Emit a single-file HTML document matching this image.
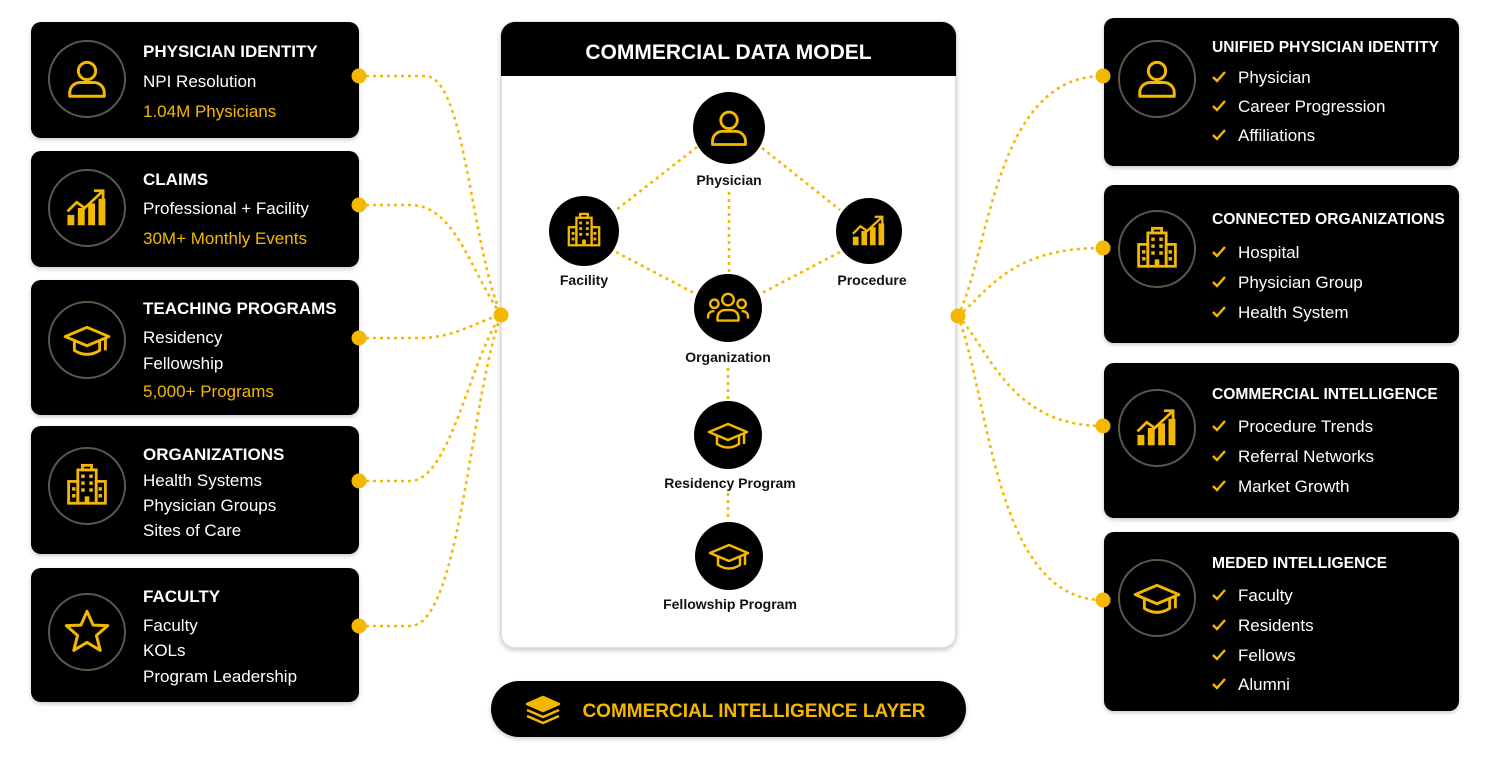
<!DOCTYPE html>
<html><head><meta charset="utf-8"><style>
html,body{margin:0;padding:0;background:#fff;}
svg{display:block;font-family:"Liberation Sans",Arial,sans-serif;}
</style></head><body>
<svg width="1500" height="770" viewBox="0 0 1500 770" xmlns="http://www.w3.org/2000/svg">
<defs>
<filter id="sh" x="-10%" y="-10%" width="120%" height="130%"><feDropShadow dx="0" dy="2" stdDeviation="2" flood-opacity="0.2"/></filter>
<symbol id="person" viewBox="-20 -20 40 40" overflow="visible"><g fill="none" stroke="#F5B800" stroke-width="2.6" stroke-linejoin="round"><circle cx="0" cy="-7" r="7.5"/><path d="M-15 15 v-3 a9 9 0 0 1 9-9 h12 a9 9 0 0 1 9 9 v3 z"/></g></symbol>
<symbol id="bldg" viewBox="-20 -20 40 40" overflow="visible"><g fill="none" stroke="#F5B800" stroke-width="2.4"><rect x="-8" y="-14" width="16" height="29"/><rect x="-4" y="-18" width="8" height="4"/><rect x="-16" y="-4" width="8" height="19"/><rect x="8" y="-4" width="8" height="19"/></g><g fill="#F5B800"><rect x="-5" y="-10" width="3" height="3"/><rect x="2" y="-10" width="3" height="3"/><rect x="-5" y="-4" width="3" height="3"/><rect x="2" y="-4" width="3" height="3"/><rect x="-5" y="2" width="3" height="3"/><rect x="2" y="2" width="3" height="3"/><rect x="-13" y="1" width="3" height="3"/><rect x="10" y="1" width="3" height="3"/><rect x="-13" y="7" width="3" height="3"/><rect x="10" y="7" width="3" height="3"/><rect x="-2" y="9" width="4" height="6"/></g></symbol>
<symbol id="chart" viewBox="-20 -20 40 40" overflow="visible"><g fill="#F5B800"><rect x="-17" y="6" width="6" height="9"/><rect x="-8" y="0" width="6" height="15"/><rect x="1" y="-4" width="6" height="19"/><rect x="10" y="-8" width="6" height="23"/></g><g fill="none" stroke="#F5B800" stroke-width="2.4"><polyline points="-17,3 -9,-5 -2,0 13,-14"/><polyline points="6,-15 14,-15 14,-7"/></g></symbol>
<symbol id="people" viewBox="-20 -20 40 40" overflow="visible"><g fill="none" stroke="#F5B800" stroke-width="2.3" stroke-linejoin="round"><circle cx="0" cy="-8" r="5.5"/><path d="M-10 12 v-3 a7 7 0 0 1 7-7 h6 a7 7 0 0 1 7 7 v3 z"/><circle cx="-13" cy="-4" r="4"/><path d="M-19 10 v-2 a5 5 0 0 1 5-5 h1"/><circle cx="13" cy="-4" r="4"/><path d="M19 10 v-2 a5 5 0 0 0-5-5 h-1"/></g></symbol>
<symbol id="cap" viewBox="-20 -20 40 40" overflow="visible"><g fill="none" stroke="#F5B800" stroke-width="2.5" stroke-linejoin="round"><polygon points="0,-11 19,-3 0,5 -19,-3"/><path d="M-11 1 v8 q11 7 22 0 v-8"/><line x1="16" y1="-2" x2="16" y2="9"/></g></symbol>
<symbol id="star" viewBox="-20 -20 40 40" overflow="visible"><polygon fill="none" stroke="#F5B800" stroke-width="2.6" stroke-linejoin="round" points="0,-18 5.3,-6 18,-5.5 8.2,3 11.5,16 0,9 -11.5,16 -8.2,3 -18,-5.5 -5.3,-6"/></symbol>
<symbol id="chk" viewBox="0 0 14 12" overflow="visible"><polyline points="1,6 5,10 13,1" fill="none" stroke="#F5B800" stroke-width="2.4"/></symbol>
</defs>

<!-- connectors -->
<g fill="none" stroke="#F5B800" stroke-width="2.6" stroke-dasharray="3 4">
<path d="M359 76 H425 C465 76 470 240 501 315"/>
<path d="M359 205 H410 C455 205 470 270 501 315"/>
<path d="M359 338 H420 C455 338 480 320 501 315"/>
<path d="M359 481 H410 C450 481 470 360 501 315"/>
<path d="M359 626 H410 C460 626 470 400 501 315"/>
<path d="M958 316 C990 250 995 76 1103 76"/>
<path d="M958 316 C990 290 1010 248 1103 248"/>
<path d="M958 316 C990 350 1010 426 1103 426"/>
<path d="M958 316 C990 400 995 600 1103 600"/>
</g>

<g filter="url(#sh)" fill="#000">
<rect x="31" y="22" width="328" height="116" rx="10"/>
<rect x="31" y="151" width="328" height="116" rx="10"/>
<rect x="31" y="280" width="328" height="135" rx="10"/>
<rect x="31" y="426" width="328" height="128" rx="10"/>
<rect x="31" y="568" width="328" height="134" rx="10"/>
<rect x="1104" y="18" width="355" height="148" rx="10"/>
<rect x="1104" y="185" width="355" height="158" rx="10"/>
<rect x="1104" y="363" width="355" height="155" rx="10"/>
<rect x="1104" y="532" width="355" height="179" rx="10"/>
</g>
<g fill="none" stroke="#5e574a" stroke-width="2">
<circle cx="87" cy="79" r="38"/><circle cx="87" cy="208" r="38"/><circle cx="87" cy="340" r="38"/><circle cx="87" cy="486" r="38"/><circle cx="87" cy="632" r="38"/>
<circle cx="1157" cy="79" r="38"/><circle cx="1157" cy="249" r="38"/><circle cx="1157" cy="428" r="38"/><circle cx="1157" cy="598" r="38"/>
</g>
<use href="#person" x="64" y="56" width="46" height="46"/>
<use href="#chart" x="64" y="185" width="46" height="46"/>
<use href="#cap" x="64" y="317" width="46" height="46"/>
<use href="#bldg" x="64" y="463" width="46" height="46"/>
<use href="#star" x="64" y="609" width="46" height="46"/>
<use href="#person" x="1134" y="56" width="46" height="46"/>
<use href="#bldg" x="1134" y="226" width="46" height="46"/>
<use href="#chart" x="1134" y="405" width="46" height="46"/>
<use href="#cap" x="1134" y="575" width="46" height="46"/>

<g font-size="17">
<text x="143" y="57" fill="#fff" font-weight="bold">PHYSICIAN IDENTITY</text>
<text x="143" y="87" fill="#fff">NPI Resolution</text>
<text x="143" y="117" fill="#F5B800">1.04M Physicians</text>
<text x="143" y="185" fill="#fff" font-weight="bold">CLAIMS</text>
<text x="143" y="214" fill="#fff">Professional + Facility</text>
<text x="143" y="244" fill="#F5B800">30M+ Monthly Events</text>
<text x="143" y="314" fill="#fff" font-weight="bold">TEACHING PROGRAMS</text>
<text x="143" y="343" fill="#fff">Residency</text>
<text x="143" y="369" fill="#fff">Fellowship</text>
<text x="143" y="397" fill="#F5B800">5,000+ Programs</text>
<text x="143" y="460" fill="#fff" font-weight="bold">ORGANIZATIONS</text>
<text x="143" y="486" fill="#fff">Health Systems</text>
<text x="143" y="511" fill="#fff">Physician Groups</text>
<text x="143" y="536" fill="#fff">Sites of Care</text>
<text x="143" y="602" fill="#fff" font-weight="bold">FACULTY</text>
<text x="143" y="631" fill="#fff">Faculty</text>
<text x="143" y="656" fill="#fff">KOLs</text>
<text x="143" y="682" fill="#fff">Program Leadership</text>
</g>

<g font-size="15.6" fill="#fff" font-weight="bold">
<text x="1212" y="52">UNIFIED PHYSICIAN IDENTITY</text>
<text x="1212" y="224">CONNECTED ORGANIZATIONS</text>
<text x="1212" y="399">COMMERCIAL INTELLIGENCE</text>
<text x="1212" y="568">MEDED INTELLIGENCE</text>
</g>
<g font-size="17" fill="#fff">
<text x="1238" y="83">Physician</text><text x="1238" y="112">Career Progression</text><text x="1238" y="141">Affiliations</text>
<text x="1238" y="258">Hospital</text><text x="1238" y="288">Physician Group</text><text x="1238" y="318">Health System</text>
<text x="1238" y="432">Procedure Trends</text><text x="1238" y="462">Referral Networks</text><text x="1238" y="492">Market Growth</text>
<text x="1238" y="601">Faculty</text><text x="1238" y="631">Residents</text><text x="1238" y="661">Fellows</text><text x="1238" y="690">Alumni</text>
</g>
<g>
<use href="#chk" x="1212" y="71" width="14" height="12"/><use href="#chk" x="1212" y="100" width="14" height="12"/><use href="#chk" x="1212" y="129" width="14" height="12"/>
<use href="#chk" x="1212" y="246" width="14" height="12"/><use href="#chk" x="1212" y="276" width="14" height="12"/><use href="#chk" x="1212" y="306" width="14" height="12"/>
<use href="#chk" x="1212" y="420" width="14" height="12"/><use href="#chk" x="1212" y="450" width="14" height="12"/><use href="#chk" x="1212" y="480" width="14" height="12"/>
<use href="#chk" x="1212" y="589" width="14" height="12"/><use href="#chk" x="1212" y="619" width="14" height="12"/><use href="#chk" x="1212" y="649" width="14" height="12"/><use href="#chk" x="1212" y="678" width="14" height="12"/>
</g>

<!-- center panel -->
<rect x="501" y="22" width="455" height="626" rx="14" fill="#fff" stroke="#d8d8d8" stroke-width="1.5" filter="url(#sh)"/>
<path d="M501 76 V36 a14 14 0 0 1 14-14 H942 a14 14 0 0 1 14 14 V76 Z" fill="#000"/>
<text x="728.5" y="59" text-anchor="middle" fill="#fff" font-size="21" font-weight="bold">COMMERCIAL DATA MODEL</text>

<!-- dots -->
<g fill="#F5B800">
<circle cx="359" cy="76" r="7.5"/><circle cx="359" cy="205" r="7.5"/><circle cx="359" cy="338" r="7.5"/><circle cx="359" cy="481" r="7.5"/><circle cx="359" cy="626" r="7.5"/>
<circle cx="1103" cy="76" r="7.5"/><circle cx="1103" cy="248" r="7.5"/><circle cx="1103" cy="426" r="7.5"/><circle cx="1103" cy="600" r="7.5"/>
<circle cx="501" cy="315" r="7.5"/><circle cx="958" cy="316" r="7.5"/>
</g>

<g fill="none" stroke="#F5B800" stroke-width="2.6" stroke-dasharray="3 4">
<line x1="697" y1="147" x2="616" y2="210"/>
<line x1="762" y1="148" x2="840" y2="210"/>
<line x1="729" y1="192" x2="729" y2="272"/>
<line x1="616" y1="252" x2="694" y2="293"/>
<line x1="840" y1="252" x2="762" y2="293"/>
<line x1="728" y1="368" x2="728" y2="400"/>
<line x1="728" y1="493" x2="728" y2="521"/>
</g>
<g fill="#000">
<circle cx="729" cy="128" r="36"/><circle cx="584" cy="231" r="35"/><circle cx="869" cy="231" r="33"/><circle cx="728" cy="308" r="34"/><circle cx="728" cy="435" r="34"/><circle cx="729" cy="556" r="34"/>
</g>
<use href="#person" x="707" y="106" width="44" height="44"/>
<use href="#bldg" x="565" y="212" width="38" height="38"/>
<use href="#chart" x="850" y="212" width="38" height="38"/>
<use href="#people" x="707" y="287" width="42" height="42"/>
<use href="#cap" x="708" y="415" width="40" height="40"/>
<use href="#cap" x="709" y="536" width="40" height="40"/>
<g font-size="14" font-weight="bold" fill="#111" text-anchor="middle">
<text x="729" y="185">Physician</text>
<text x="584" y="285">Facility</text>
<text x="872" y="285">Procedure</text>
<text x="728" y="362">Organization</text>
<text x="730" y="488">Residency Program</text>
<text x="730" y="609">Fellowship Program</text>
</g>

<!-- bottom pill -->
<rect x="491" y="681" width="475" height="56" rx="28" fill="#000" filter="url(#sh)"/>
<g fill="none" stroke="#F5B800" stroke-width="2.5" stroke-linejoin="round">
<polygon points="543,697 559,704 543,711 527,704" fill="#F5B800"/>
<polyline points="527,710 543,717 559,710"/>
<polyline points="527,716 543,723 559,716"/>
</g>
<text x="754" y="717" text-anchor="middle" fill="#F5B800" font-size="19" font-weight="bold">COMMERCIAL INTELLIGENCE LAYER</text>
</svg>
</body></html>
